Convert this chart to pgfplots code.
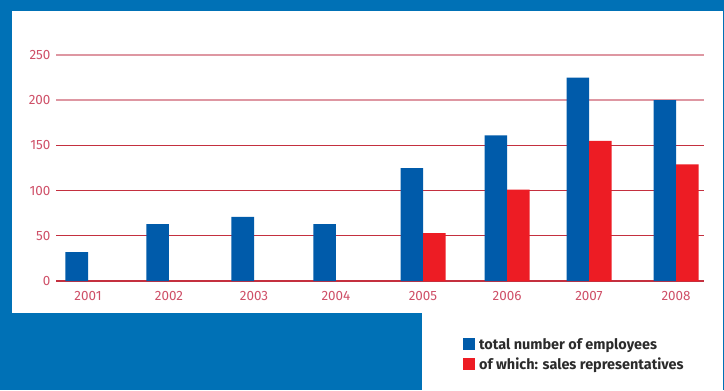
\documentclass[border=0pt]{standalone}
\usepackage{fontspec}
\setmainfont{Fira Sans}
\usepackage{pgfplots}
\pgfplotsset{compat=1.18}
\definecolor{bg}{HTML}{0071B6}
\definecolor{barblue}{HTML}{005BAA}
\definecolor{barred}{HTML}{ED1C24}
\definecolor{ticklab}{HTML}{CF5068}
\definecolor{griddark}{HTML}{C4303F}
\definecolor{gridlight}{HTML}{DE97A2}
\definecolor{legtext}{HTML}{2B2B2B}
\begin{document}
\begin{tikzpicture}[x=1bp,y=1bp]
\useasboundingbox (0,0) rectangle (724,390);
\fill[bg] (0,0) rectangle (724,390);
\fill[white] (12,77) rectangle (723,379);
\fill[white] (422,0) rectangle (723,77);
\begin{axis}[
  at={(56bp,109bp)}, anchor=south west,
  scale only axis, width=648bp, height=226bp,
  xmin=-0.381, xmax=7.333, ymin=0, ymax=250,
  axis lines*=left, axis line style={draw=none},
  major tick length=0pt,
  ytick={0,50,100,150}, extra y ticks={200,250},
  extra y tick style={grid style={gridlight, line width=1.6bp}},
  ymajorgrids, grid style={griddark, line width=1.2bp},
  xtick=data, xticklabels={2001,2002,2003,2004,2005,2006,2007,2008},
  tick label style={ticklab, font=\fontsize{13.5}{15}\selectfont},
  /pgf/number format/assume math mode=true,
  yticklabel style={xshift=-2bp},
  xticklabel style={yshift=-6.5bp},
  legend style={at={(rel axis cs:0.628,-0.252)}, anchor=north west,
    draw=none, fill=none, inner sep=0pt, row sep=7bp, column sep=4bp,
    nodes={inner sep=0pt},
    font=\bfseries\fontsize{14.5}{16}\selectfont, text=legtext,
    legend cell align=left},
  legend image code/.code={\fill[#1] (0bp,-6bp) rectangle (12bp,6bp);},
]
\addplot[ybar, bar width=0.268, bar shift=-0.134, fill=barblue, draw=none]
  coordinates {(0,32) (0.964,63) (1.976,71) (2.952,63) (3.988,125) (4.988,161) (5.964,225) (7.0,200)};
\addlegendentry{total number of employees}
\addplot[ybar, bar width=0.268, bar shift=0.134, fill=barred, draw=none]
  coordinates {(3.988,53) (4.988,101) (5.964,155) (7.0,129)};
\addlegendentry{of which: sales representatives}
\end{axis}
\end{tikzpicture}
\end{document}
